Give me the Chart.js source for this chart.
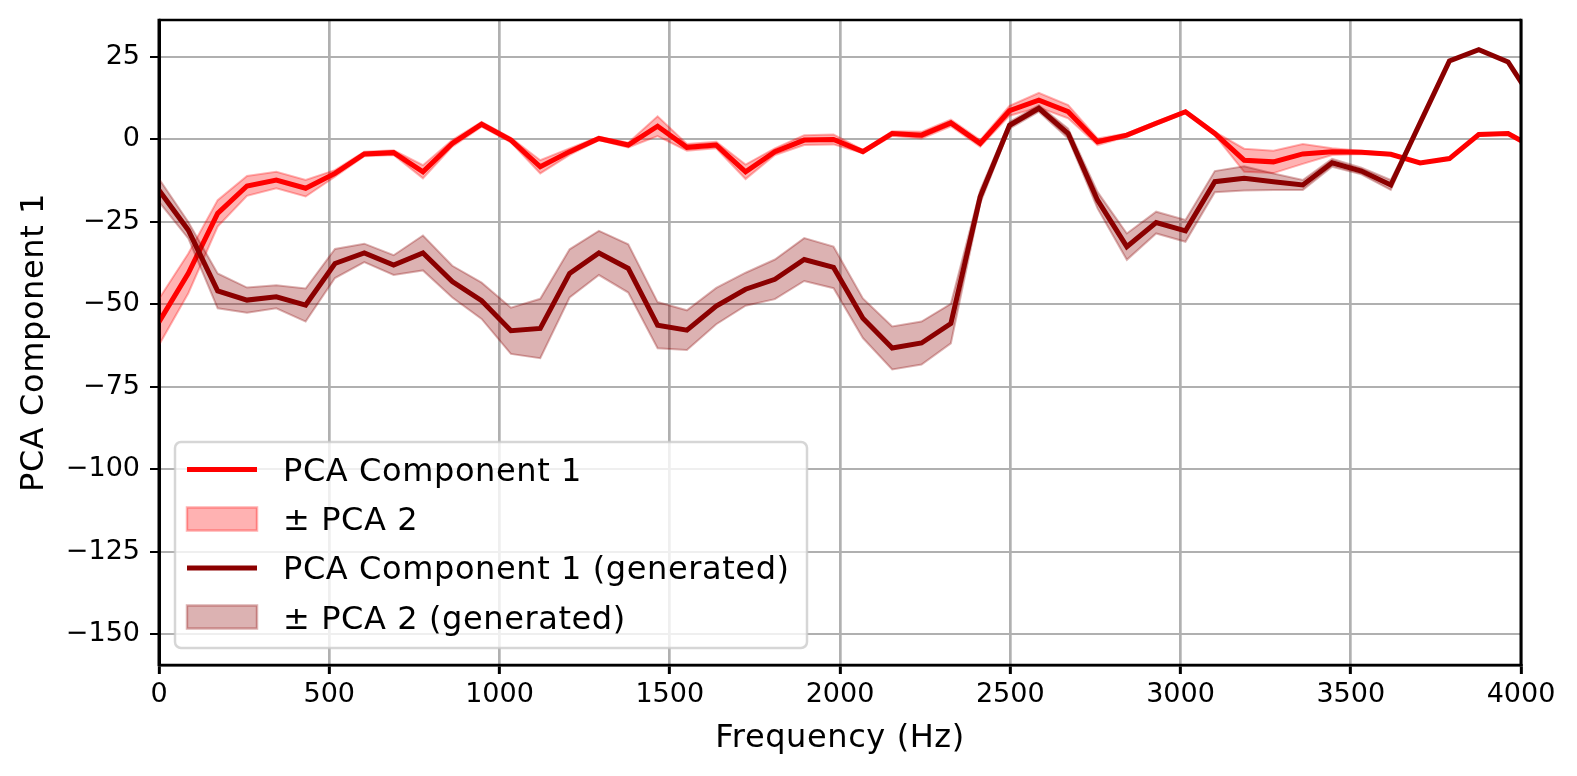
<!DOCTYPE html>
<html lang="en">
<head>
<meta charset="UTF-8">
<title>PCA Component 1 vs Frequency</title>
<script src="https://cdn.jsdelivr.net/npm/chart.js"></script>
<style>
  html, body { margin: 0; padding: 0; background: #fff; }
  #wrap { width: 1577px; height: 776px; }
</style>
</head>
<body>
<div id="wrap"><canvas id="pcaChart" width="1577" height="776"></canvas></div>
<script>
// frequency bins (Hz)
const freqs = [0, 86.1, 172.3, 258.4, 344.5, 430.7, 516.8, 602.9, 689.1, 775.2,
  861.3, 947.5, 1033.6, 1119.7, 1205.9, 1292.0, 1378.1, 1464.3, 1550.4, 1636.5,
  1722.7, 1808.8, 1894.9, 1981.1, 2067.2, 2153.3, 2239.5, 2325.6, 2411.7, 2497.9,
  2584.0, 2670.1, 2756.3, 2842.4, 2928.5, 3014.6, 3100.8, 3186.9, 3273.0, 3359.2,
  3445.3, 3531.4, 3617.6, 3703.7, 3789.8, 3876.0, 3962.1, 4048.2];

// real
const pca1 = [-55.4, -40.7, -22.5, -14.2, -12.4, -14.9, -10.4, -4.5, -4.1, -9.9,
  -1.3, 4.5, -0.3, -8.4, -3.8, 0.2, -1.8, 3.9, -2.5, -1.8,
  -9.9, -3.8, -0.3, -0.1, -3.8, 1.7, 1.2, 4.9, -1.3, 8.6,
  11.8, 8.3, -0.8, 1.2, 4.8, 8.3, 1.7, -6.4, -6.9, -4.5,
  -3.8, -4.0, -4.6, -7.2, -5.9, 1.4, 1.7, -3.2];
const pca2 = [7, 6, 4, 3, 2.5, 2.5, 1, 0.7, 0.7, 2,
  1, 0.7, 0.7, 2, 1, 0.5, 0.7, 3, 1, 1,
  2.2, 1, 1.5, 1.5, 0.5, 0.7, 1, 1, 1, 1.5,
  2.2, 2, 1, 0.5, 0.5, 0.3, 0.5, 3.5, 3.4, 3,
  1, 0.5, 0.3, 0.2, 0.2, 0.3, 0.3, 0.3];

// generated
const pca1Gen = [-15.5, -27.6, -46.0, -48.8, -47.8, -50.3, -37.7, -34.5, -38.2, -34.5,
  -43.2, -49.0, -58.1, -57.4, -40.7, -34.5, -39.2, -56.4, -57.9, -50.6,
  -45.5, -42.5, -36.5, -38.9, -54.3, -63.3, -61.8, -55.9, -17.5, 4.2,
  9.3, 1.7, -18.5, -32.6, -25.3, -27.8, -12.9, -11.9, -12.9, -13.9,
  -7.2, -9.7, -13.9, 4.9, 23.7, 27.1, 23.4, 9.6];
const pca2Gen = [3.5, 2.5, 5.3, 3.8, 3.5, 5, 4.4, 2.8, 3, 5.3,
  4.8, 5.5, 7, 9, 7.3, 6.7, 7.3, 7, 6, 5.5,
  5, 6, 6.5, 6.3, 6, 6.5, 6.5, 6, 2, 1,
  1, 1.5, 2.5, 4, 3.3, 3.3, 3.2, 3.7, 2.5, 1.5,
  1.2, 1, 1.5, 0.2, 0.2, 0.2, 0.2, 0.2];

const xTicks = [0, 500, 1000, 1500, 2000, 2500, 3000, 3500, 4000];
const yTicks = [25, 0, -25, -50, -75, -100, -125, -150];
const xTitle = 'Frequency (Hz)';
const yTitle = 'PCA Component 1';
const legendLabels = ['PCA Component 1', '\u00b1 PCA 2', 'PCA Component 1 (generated)', '\u00b1 PCA 2 (generated)'];

const RED = '#ff0000';
const RED_A = 'rgba(255,0,0,0.3)';
const DARK = '#8b0000';
const DARK_A = 'rgba(139,0,0,0.3)';
const FONT = '"DejaVu Sans", sans-serif';
const LABEL_FONT = '32px ' + FONT;
const LABEL_SPACING = '0.6px';

function pts(vals) { return freqs.map((f, i) => ({ x: f, y: vals[i] })); }
function band(vals, err, sign) { return freqs.map((f, i) => ({ x: f, y: vals[i] + sign * err[i] })); }

const lineStyle = { pointRadius: 0, tension: 0, borderWidth: 5 };
const bandStyle = { pointRadius: 0, tension: 0, borderWidth: 2 };

// frame on all four sides (drawn over the lines like matplotlib spines)
const framePlugin = {
  id: 'frame',
  afterDatasetsDraw(chart) {
    const a = chart.chartArea, c = chart.ctx;
    c.save();
    c.strokeStyle = '#000';
    c.lineWidth = 2.5;
    c.beginPath();
    c.moveTo(a.left, a.top); c.lineTo(a.right, a.top);
    c.moveTo(a.left, a.bottom); c.lineTo(a.right, a.bottom);
    c.stroke();
    c.lineWidth = 3;
    c.beginPath();
    c.moveTo(a.left, a.top - 1.2); c.lineTo(a.left, a.bottom + 1.2);
    c.moveTo(a.right, a.top - 1.2); c.lineTo(a.right, a.bottom + 1.2);
    c.stroke();
    c.restore();
  }
};

// axis titles, drawn by hand so they can get their own letter spacing
const titlePlugin = {
  id: 'axisTitles',
  afterDraw(chart) {
    const a = chart.chartArea, c = chart.ctx;
    c.save();
    c.font = LABEL_FONT;
    c.letterSpacing = LABEL_SPACING;
    c.fillStyle = '#000';
    c.textAlign = 'center';
    c.textBaseline = 'alphabetic';
    c.fillText(xTitle, (a.left + a.right) / 2, 747);
    c.translate(43, (a.top + a.bottom) / 2);
    c.rotate(-Math.PI / 2);
    c.fillText(yTitle, 0, 0);
    c.restore();
  }
};

// legend box in the lower left corner
const legendPlugin = {
  id: 'boxLegend',
  afterDraw(chart) {
    const c = chart.ctx;
    const x0 = 175, y0 = 442, w = 632, h = 206, r = 6;
    c.save();
    c.beginPath();
    c.roundRect(x0, y0, w, h, r);
    c.fillStyle = 'rgba(255,255,255,0.8)';
    c.fill();
    c.strokeStyle = 'rgba(204,204,204,0.8)';
    c.lineWidth = 2.5;
    c.stroke();

    const rows = [469.5, 519, 568, 617];
    const baselines = [480.7, 530, 579.3, 628.6];
    const hx0 = 187, hx1 = 257;
    const kinds = [
      { type: 'line', color: RED },
      { type: 'patch', color: RED_A },
      { type: 'line', color: DARK },
      { type: 'patch', color: DARK_A }
    ];
    c.font = LABEL_FONT;
    c.letterSpacing = LABEL_SPACING;
    c.textBaseline = 'alphabetic';
    c.textAlign = 'left';
    kinds.forEach((k, i) => {
      const y = rows[i];
      if (k.type === 'line') {
        c.strokeStyle = k.color;
        c.lineWidth = 5;
        c.beginPath();
        c.moveTo(hx0, y);
        c.lineTo(hx1, y);
        c.stroke();
      } else {
        c.fillStyle = k.color;
        c.fillRect(hx0, y - 11.5, hx1 - hx0, 23);
        c.strokeStyle = k.color;
        c.lineWidth = 2.5;
        c.strokeRect(hx0, y - 11.5, hx1 - hx0, 23);
      }
      c.fillStyle = '#000';
      c.fillText(legendLabels[i], 283, baselines[i]);
    });
    c.restore();
  }
};

const ctx = document.getElementById('pcaChart').getContext('2d');
const pcaChart = new Chart(ctx, {
  type: 'line',
  data: {
    datasets: [
      { label: legendLabels[0], data: pts(pca1), borderColor: RED, fill: false, order: 6, ...lineStyle },
      { label: 'red upper', data: band(pca1, pca2, 1), borderColor: RED_A, fill: false, order: 5, ...bandStyle },
      { label: legendLabels[1], data: band(pca1, pca2, -1), borderColor: RED_A, backgroundColor: RED_A, fill: '-1', order: 5, ...bandStyle },
      { label: legendLabels[2], data: pts(pca1Gen), borderColor: DARK, fill: false, order: 3, ...lineStyle },
      { label: 'dark upper', data: band(pca1Gen, pca2Gen, 1), borderColor: DARK_A, fill: false, order: 2, ...bandStyle },
      { label: legendLabels[3], data: band(pca1Gen, pca2Gen, -1), borderColor: DARK_A, backgroundColor: DARK_A, fill: '-1', order: 2, ...bandStyle }
    ]
  },
  options: {
    responsive: false,
    animation: false,
    devicePixelRatio: 1,
    layout: { padding: { left: 0, top: 20, right: 56, bottom: 0 } },
    plugins: {
      legend: { display: false },
      tooltip: { enabled: false },
      filler: { propagate: false }
    },
    scales: {
      x: {
        type: 'linear',
        min: 0,
        max: 4000,
        afterFit(scale) {
          scale.height = 111;
          scale.paddingLeft = 0;
          scale.paddingRight = 0;
        },
        afterBuildTicks(scale) { scale.ticks = xTicks.map(v => ({ value: v })); },
        grid: { color: '#b0b0b0', lineWidth: 2.7, tickColor: '#000', tickLength: 9, tickWidth: 3 },
        border: { display: true, color: '#000', width: 2.5 },
        ticks: {
          color: '#000', font: { family: FONT, size: 27 }, padding: 5, maxRotation: 0, autoSkip: false,
          callback: v => String(v)
        },
        title: { display: false }
      },
      y: {
        min: -159.4,
        max: 36.1,
        afterFit(scale) {
          scale.width = 159;
          scale.paddingTop = 0;
          scale.paddingBottom = 0;
        },
        afterBuildTicks(scale) { scale.ticks = yTicks.map(v => ({ value: v })); },
        grid: { color: '#b0b0b0', lineWidth: 2, tickColor: '#000', tickLength: 9, tickWidth: 2 },
        border: { display: true, color: '#000', width: 3 },
        ticks: {
          color: '#000', font: { family: FONT, size: 27 }, padding: 10, autoSkip: false,
          callback: v => (v < 0 ? '\u2212' + Math.abs(v) : String(v))
        },
        title: { display: false }
      }
    }
  },
  plugins: [framePlugin, titlePlugin, legendPlugin]
});
</script>
</body>
</html>
